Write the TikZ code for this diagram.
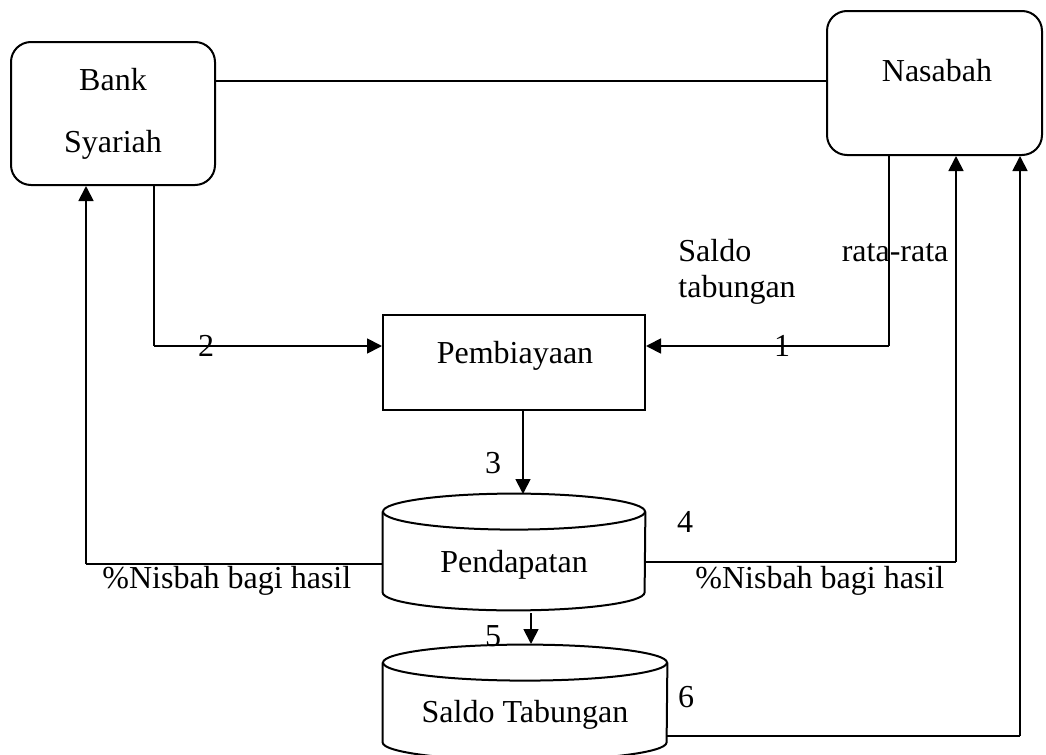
\documentclass[tikz,border=0pt]{standalone}
\usepackage{fontspec}
\setmainfont{Liberation Serif}
\usetikzlibrary{arrows.meta,calc}
\begin{document}
\begin{tikzpicture}[x=0.5pt,y=-0.5pt,
  every node/.style={inner sep=0pt, font=\fontsize{16}{18}\selectfont},
  box/.style={draw, line width=1pt},
  thinline/.style={line width=0.55pt},
  flow/.style={line width=0.9pt, -{Triangle[length=7.5pt,width=7.5pt]}},
  cyl/.style={line width=1pt},
  lbl/.style={anchor=base}
]
\useasboundingbox (0,0) rectangle (1046,755);
\clip (0,0) rectangle (1046,755);

% boxes
\node[box, rounded corners=10pt, minimum width=102pt, minimum height=71.5pt, align=center] (bank) at (113,113.5) {Bank\\[13pt]Syariah};
\node[box, rounded corners=10pt, minimum width=107.5pt, minimum height=72pt] (nas) at (934.5,83) {};
\node[lbl] (nastxt) at (937,82) {Nasabah};
\node[box, minimum width=131pt, minimum height=47.5pt] (pemb) at (514,362.5) {};
\node[lbl] (pembtxt) at (515,363) {Pembiayaan};

% cylinders
\node[minimum width=131pt, minimum height=40pt] (pend) at (514,552) {};
\draw[cyl] (pend.north) ellipse[x radius=65.5pt, y radius=9pt];
\draw[cyl] (pend.north west) -- (pend.south west) arc[start angle=180, end angle=360, x radius=65.5pt, y radius=9pt] -- (pend.north east);
\node[lbl] (pendtxt) at (514,572) {Pendapatan};

\node[minimum width=142pt, minimum height=39.5pt] (sal) at (525,702.5) {};
\draw[cyl] (sal.north) ellipse[x radius=71pt, y radius=9pt];
\draw[cyl] (sal.north west) -- (sal.south west) arc[start angle=180, end angle=360, x radius=71pt, y radius=9pt] -- (sal.north east);
\node[lbl] (saltxt) at (525,722) {Saldo Tabungan};

% connectors
\coordinate (ytop) at (0,81);
\draw[thinline] (bank.east |- ytop) -- (nas.west |- ytop);

\coordinate (c2) at (154,346);
\draw[thinline] (bank.south -| c2) -- (c2);
\draw[flow] (c2) -- (pemb.west |- c2);

\coordinate (c1) at (889,346);
\draw[thinline] (nas.south -| c1) -- (c1);
\draw[flow] (c1) -- (pemb.east |- c1);

\coordinate (c3) at (523,494);
\draw[flow] (pemb.south -| c3) -- (c3);

\coordinate (cl) at (86,564);
\draw[thinline] (pend.west |- cl) -- (cl);
\draw[flow] (cl) -- (bank.south -| cl);

\coordinate (cr) at (956,562);
\draw[thinline] (pend.east |- cr) -- (cr);
\draw[flow] (cr) -- (nas.south -| cr);

\coordinate (c5a) at (531,613);
\coordinate (c5b) at (531,644);
\draw[flow] (c5a) -- (c5b);

\coordinate (c6) at (1020,736);
\draw[thinline] (sal.east |- c6) -- (c6);
\draw[flow] (c6) -- (nas.south -| c6);

% labels
\node[lbl] (n2) at (206,356) {2};
\node[lbl] (n1) at (782,356) {1};
\node[lbl] (n3) at (493,473) {3};
\node[lbl] (n4) at (685,532) {4};
\node[lbl] (n5) at (493,646) {5};
\node[lbl] (n6) at (686,707) {6};
\node[anchor=base west] (nisL) at (102,588) {\%Nisbah bagi hasil};
\node[anchor=base west] (nisR) at (695,588) {\%Nisbah bagi hasil};
\node[anchor=north west, text width=135pt, align=left] (saldo) at (678,239) {Saldo\hfill rata-rata\\tabungan};
\end{tikzpicture}
\end{document}
